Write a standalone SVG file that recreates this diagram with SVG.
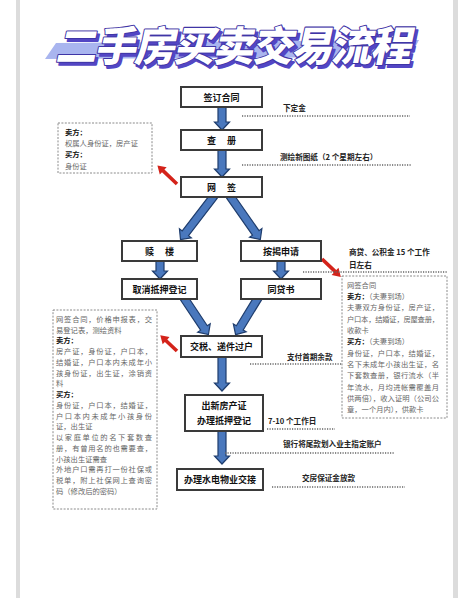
<svg xmlns="http://www.w3.org/2000/svg" width="475" height="598" viewBox="0 0 475 598">
<style>
.box{fill:#fff;stroke:#3a3a3a;stroke-width:2}
.bt{font-family:"Noto Sans CJK SC","Noto Sans",sans-serif;font-size:9px;font-weight:bold;fill:#111;text-anchor:middle;dominant-baseline:central}
.ann{font-family:"Noto Sans CJK SC","Noto Sans",sans-serif;font-size:7.6px;font-weight:bold;fill:#222}
.dot{stroke:#666;stroke-width:1.4;stroke-dasharray:1.2 1.3;fill:none}
.note{fill:#fff;stroke:#8a8a8a;stroke-width:1;stroke-dasharray:2 1.4}
.nt{font-family:"Noto Sans CJK SC","Noto Sans",sans-serif;font-size:7.3px;fill:#666}
.nb{font-weight:bold;fill:#111}
.barr{fill:#4a78bd;stroke:#1f3d6d;stroke-width:1.2;stroke-linejoin:miter}
.red{fill:#d4231a}
.tt{font-family:"Noto Sans CJK SC",sans-serif;font-size:41px;font-weight:900;text-anchor:middle;stroke-width:2;paint-order:stroke;stroke-linejoin:round}
</style>
<rect x="0" y="0" width="475" height="598" fill="#fff"/>
<rect x="16" y="0" width="4" height="598" fill="#dcdcdc"/>
<rect x="453" y="0" width="5" height="598" fill="#dcdcdc"/>

<g id="title">
<polygon points="56,43 419,40 410,57 45,59" fill="#a9b5ef"/>
<g transform="translate(233,61) skewX(-12)">
<text x="3" y="3" class="tt" fill="#5346c4" stroke="#5346c4" textLength="356">二手房买卖交易流程</text>
<text x="0" y="0" class="tt" fill="#fff" stroke="#3f35a6" textLength="356">二手房买卖交易流程</text>
</g>
</g>

<g id="connectors">
<path class="barr" transform="translate(222,106)" d="M-4,0 H4 V16 H7.5 L0,24 L-7.5,16 H-4 Z"/>
<path class="barr" transform="translate(222,149)" d="M-4,0 H4 V20 H7.5 L0,28 L-7.5,20 H-4 Z"/>
<path class="barr" transform="translate(214,196) rotate(37.5)" d="M-4,0 H4 V47 H7.5 L0,55 L-7.5,47 H-4 Z"/>
<path class="barr" transform="translate(230,196) rotate(-34.9)" d="M-4,0 H4 V45 H7.5 L0,53 L-7.5,45 H-4 Z"/>
<path class="barr" transform="translate(160,260)" d="M-4,0 H4 V11 H7.5 L0,19 L-7.5,11 H-4 Z"/>
<path class="barr" transform="translate(281,260)" d="M-4,0 H4 V11 H7.5 L0,19 L-7.5,11 H-4 Z"/>
<path class="barr" transform="translate(184,298) rotate(-33.7)" d="M-4,0 H4 V36 H7.5 L0,44 L-7.5,36 H-4 Z"/>
<path class="barr" transform="translate(258,298) rotate(31.4)" d="M-4,0 H4 V35 H7.5 L0,43 L-7.5,35 H-4 Z"/>
<path class="barr" transform="translate(222,357)" d="M-4,0 H4 V26 H7.5 L0,34 L-7.5,26 H-4 Z"/>
<path class="barr" transform="translate(222,431)" d="M-4,0 H4 V25 H7.5 L0,33 L-7.5,25 H-4 Z"/>
<path class="red" transform="translate(177,184) rotate(-136.5)" d="M0,-1.8 H19 V-5 L27,0 L19,5 V1.8 H0 Z"/>
<path class="red" transform="translate(322,259) rotate(43.5)" d="M0,-1.8 H18 V-5 L26,0 L18,5 V1.8 H0 Z"/>
<path class="red" transform="translate(177,351) rotate(-136.7)" d="M0,-1.8 H15 V-5 L23,0 L15,5 V1.8 H0 Z"/>
</g>

<g id="n-sign"><rect class="box" x="181" y="87" width="81" height="20"/><text class="bt" x="221.5" y="97">签订合同</text></g>
<g id="n-check"><rect class="box" x="181" y="130" width="81" height="20"/><text class="bt" x="221.5" y="140" word-spacing="9">查 册</text></g>
<g id="n-online"><rect class="box" x="181" y="177" width="81" height="20"/><text class="bt" x="221.5" y="187" word-spacing="9">网 签</text></g>
<g id="n-redeem"><rect class="box" x="122" y="241" width="75" height="20"/><text class="bt" x="159.5" y="251" word-spacing="9">赎 楼</text></g>
<g id="n-loan"><rect class="box" x="241" y="241" width="80" height="20"/><text class="bt" x="281" y="251">按揭申请</text></g>
<g id="n-cancel"><rect class="box" x="122" y="279" width="75" height="20"/><text class="bt" x="159.5" y="289">取消抵押登记</text></g>
<g id="n-approve"><rect class="box" x="241" y="279" width="80" height="20"/><text class="bt" x="281" y="289">同贷书</text></g>
<g id="n-tax"><rect class="box" x="181" y="336" width="81" height="21"/><text class="bt" x="221.5" y="346.5">交税、递件过户</text></g>
<g id="n-cert"><rect class="box" x="185" y="395" width="78" height="36"/><text class="bt" x="224" y="405">出新房产证</text><text class="bt" x="224" y="420">办理抵押登记</text></g>
<g id="n-handover"><rect class="box" x="177" y="469" width="86" height="21"/><text class="bt" x="220" y="479.5">办理水电物业交接</text></g>

<g id="annotations">
<path class="dot" d="M242,116 H410"/>
<text class="ann" x="283" y="111">下定金</text>
<path class="dot" d="M242,165 H412"/>
<text class="ann" x="280" y="160">测绘新图纸（2 个星期左右）</text>
<path class="dot" d="M303,272 H447"/>
<text class="ann" x="349" y="255">商贷、公积金 15 个工作</text>
<text class="ann" x="349" y="268">日左右</text>
<path class="dot" d="M250,364 H342"/>
<text class="ann" x="287" y="359.5">支付首期余款</text>
<path class="dot" d="M267,429 H335"/>
<text class="ann" x="268" y="423.5">7-10 个工作日</text>
<path class="dot" d="M225,453 H395"/>
<text class="ann" x="283" y="447">银行将尾款划入业主指定账户</text>
<path class="dot" d="M272,487 H405"/>
<text class="ann" x="302" y="481">交房保证金放款</text>
</g>

<g id="note-online">
<rect class="note" x="58" y="123" width="94" height="50"/>
<text class="nt nb" x="65" y="134.5">卖方：</text>
<text class="nt" x="65" y="146">权属人身份证，房产证</text>
<text class="nt nb" x="65" y="157">买方：</text>
<text class="nt" x="65" y="168.5">身份证</text>
</g>

<g id="note-transfer">
<rect class="note" x="53" y="310" width="104" height="199"/>
<text class="nt" x="56" y="321.7" textLength="96" lengthAdjust="spacing">网签合同，价格申报表，交</text>
<text class="nt" x="56" y="332.5">易登记表，测绘资料</text>
<text class="nt nb" x="56" y="343.2">卖方：</text>
<text class="nt" x="56" y="354" textLength="96" lengthAdjust="spacing">房产证，身份证，户口本，</text>
<text class="nt" x="56" y="364.7" textLength="96" lengthAdjust="spacing">结婚证，户口本内未成年小</text>
<text class="nt" x="56" y="375.5" textLength="96" lengthAdjust="spacing">孩身份证，出生证，涂销资</text>
<text class="nt" x="56" y="386.2">料</text>
<text class="nt nb" x="56" y="397">买方：</text>
<text class="nt" x="56" y="407.7" textLength="96" lengthAdjust="spacing">身份证，户口本，结婚证，</text>
<text class="nt" x="56" y="418.5" textLength="96" lengthAdjust="spacing">户口本内未成年小孩身份</text>
<text class="nt" x="56" y="429.2">证，出生证</text>
<text class="nt" x="56" y="440" textLength="96" lengthAdjust="spacing">以家庭单位的名下套数查</text>
<text class="nt" x="56" y="450.7" textLength="96" lengthAdjust="spacing">册，有曾用名的也需要查，</text>
<text class="nt" x="56" y="461.5">小孩出生证需查</text>
<text class="nt" x="56" y="472.2" textLength="96" lengthAdjust="spacing">外地户口需再打一份社保或</text>
<text class="nt" x="56" y="483" textLength="96" lengthAdjust="spacing">税单，附上社保网上查询密</text>
<text class="nt" x="56" y="493.7">码（修改后的密码）</text>
</g>

<g id="note-loan">
<rect class="note" x="342" y="276" width="105" height="142"/>
<text class="nt" x="347" y="287.6">网签合同</text>
<text class="nt" x="347" y="298.9"><tspan class="nb">卖方：</tspan>（夫妻到场）</text>
<text class="nt" x="347" y="310.2" textLength="92" lengthAdjust="spacing">夫妻双方身份证，房产证，</text>
<text class="nt" x="347" y="321.6" textLength="92" lengthAdjust="spacing">户口本，结婚证，房屋查册，</text>
<text class="nt" x="347" y="332.9">收款卡</text>
<text class="nt" x="347" y="344.2"><tspan class="nb">买方：</tspan>（夫妻到场）</text>
<text class="nt" x="347" y="355.5" textLength="92" lengthAdjust="spacing">身份证，户口本，结婚证，</text>
<text class="nt" x="347" y="366.8" textLength="92" lengthAdjust="spacing">名下未成年小孩出生证，名</text>
<text class="nt" x="347" y="378.2" textLength="92" lengthAdjust="spacing">下套数查册，银行流水（半</text>
<text class="nt" x="347" y="389.5" textLength="92" lengthAdjust="spacing">年流水，月均进帐需覆盖月</text>
<text class="nt" x="347" y="400.8" textLength="92" lengthAdjust="spacing">供两倍），收入证明（公司公</text>
<text class="nt" x="347" y="412.1">章，一个月内），供款卡</text>
</g>
</svg>
